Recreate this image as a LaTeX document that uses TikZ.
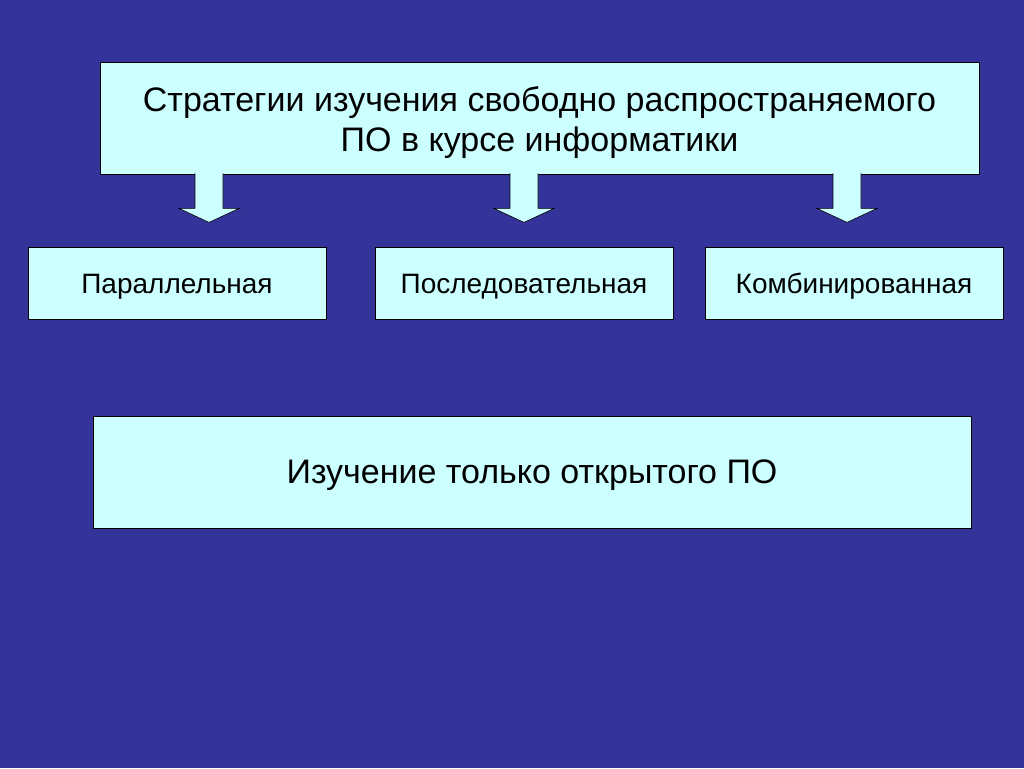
\documentclass[tikz,border=0pt]{standalone}
\usepackage{fontspec}
\setmainfont{Liberation Sans}
\usetikzlibrary{positioning}
\definecolor{slidebg}{RGB}{51,51,153}
\definecolor{boxfill}{RGB}{204,255,255}
\tikzset{
	box/.style = {draw = black, fill = boxfill, line width = 0.8pt, align = center, inner sep = 0pt},
	bigbox/.style = {box, minimum width = 879pt, minimum height = 112pt, font = \fontsize{34}{40}\selectfont},
	smallbox/.style = {box, minimum width = 298pt, minimum height = 72pt, text height = 26pt, text depth = 6pt, font = \fontsize{28}{32}\selectfont},
	blockarrow/.style = {draw = black, fill = boxfill, line width = 0.6pt, line join = miter}
}
\newcommand{\downblock}[1]{
	\draw [blockarrow] (#1) ++(-14,-1) -- ++(0,35) -- ++(-16,0) -- ++(30,14) -- ++(30,-14) -- ++(-16,0) -- ++(0,-35);
}
\begin{document}
\begin{tikzpicture}[x = 1pt, y = -1pt]
	\fill [slidebg] (0,0) rectangle (1024,768);
	\useasboundingbox (0,0) rectangle (1024,768);
	\node [bigbox, text height = 75pt] (strat) at (539.5,118) {Стратегии изучения свободно распространяемого\\ПО в курсе информатики};
	\node [smallbox] (par) at (177,283) {Параллельная};
	\node [smallbox] (seq) at (524,283) {Последовательная};
	\node [smallbox] (comb) at (854,283) {Комбинированная};
	\node [bigbox, minimum width = 878pt, text height = 30pt, text depth = 8pt] (open) at (532,472) {Изучение только открытого ПО};
	\coordinate (a1) at (strat.south -| 209,0);
	\coordinate (a2) at (strat.south -| 524,0);
	\coordinate (a3) at (strat.south -| 847,0);
	\foreach \a in {a1,a2,a3}{
	\downblock{\a}
	}
\end{tikzpicture}
\end{document}
